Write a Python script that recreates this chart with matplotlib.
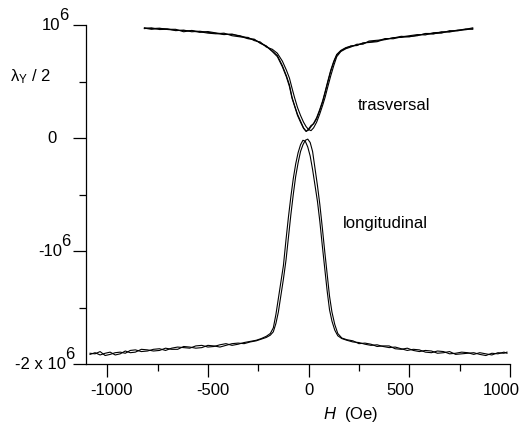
import matplotlib
matplotlib.use("Agg")
import matplotlib.pyplot as plt
from matplotlib.ticker import FixedLocator, NullFormatter
from matplotlib.transforms import blended_transform_factory, ScaledTranslation

plt.rcParams['font.family'] = ['Liberation Sans', 'DejaVu Sans']
plt.rcParams['mathtext.fontset'] = 'custom'
plt.rcParams['mathtext.rm'] = 'Liberation Sans'
plt.rcParams['mathtext.it'] = 'Liberation Sans:italic'

# ---------------- data (lambda in units of 10^6) ----------------
T_H = [-815, -780, -740, -700, -660, -620, -580, -540, -500, -460, -420, -380,
       -340, -300, -270, -240, -210, -180, -155, -130, -110, -95, -82, -70,
       -55, -40, -25, -12, 0, 12, 25, 40, 55, 70, 82, 95, 110, 125, 140, 160,
       185, 210, 240, 270, 300, 340, 380, 420, 460, 500, 540, 580, 620, 660,
       700, 740, 780, 815]

T1 = [0.975, 0.968, 0.972, 0.960, 0.955, 0.950, 0.948, 0.935, 0.942, 0.930,
      0.920, 0.915, 0.905, 0.882, 0.870, 0.842, 0.815,
      0.770, 0.730, 0.640, 0.550, 0.470, 0.360, 0.290, 0.210, 0.150, 0.090,
      0.060, 0.070, 0.100, 0.130, 0.180, 0.250, 0.330, 0.410, 0.500, 0.600,
      0.680, 0.740,
      0.775, 0.800, 0.812, 0.822, 0.838, 0.850, 0.858, 0.880, 0.878, 0.895,
      0.905, 0.915, 0.912, 0.932, 0.935, 0.942, 0.955, 0.958, 0.968]

T2 = [0.968, 0.975, 0.960, 0.962, 0.962, 0.940, 0.952, 0.940, 0.928, 0.922,
      0.928, 0.905, 0.895, 0.890, 0.862, 0.850, 0.805,
      0.785, 0.750, 0.680, 0.600, 0.530, 0.440, 0.360, 0.270, 0.200, 0.140,
      0.100, 0.075, 0.065, 0.090, 0.140, 0.210, 0.290, 0.360, 0.450, 0.550,
      0.640, 0.720,
      0.765, 0.790, 0.805, 0.830, 0.830, 0.858, 0.865, 0.870, 0.888, 0.890,
      0.898, 0.905, 0.925, 0.925, 0.928, 0.950, 0.948, 0.962, 0.975]

T3 = [0.972, 0.962, 0.968, 0.966, 0.950, 0.955, 0.940, 0.945, 0.935, 0.926,
      0.915, 0.920, 0.900, 0.878, 0.875, 0.838, 0.812,
      0.765, 0.720, 0.630, 0.540, 0.455, 0.350, 0.285, 0.200, 0.140, 0.085,
      0.058, 0.080, 0.110, 0.125, 0.170, 0.240, 0.320, 0.400, 0.490, 0.590,
      0.670, 0.735,
      0.770, 0.795, 0.815, 0.818, 0.842, 0.845, 0.852, 0.875, 0.885, 0.900,
      0.895, 0.910, 0.920, 0.920, 0.940, 0.938, 0.952, 0.965, 0.962]

L_H = [-1085, -1060, -1035, -1010, -985, -960, -935, -910, -885, -860, -830,
       -800, -770, -740, -710, -680, -650, -620, -590, -560, -530, -500, -470,
       -440, -410, -380, -350, -320, -290, -260, -235, -210, -190, -175, -162,
       -150, -138, -125, -112, -100, -88, -76, -64, -52, -40, -28, -16, -4, 8,
       20, 32, 44, 56, 68, 80, 92, 104, 116, 130, 145, 165, 190, 220, 250, 280,
       310, 340, 370, 400, 430, 460, 490, 520, 550, 580, 610, 640, 670, 700,
       730, 760, 790, 820, 850, 880, 910, 940, 970, 985]

L1 = [-1.905, -1.910, -1.890, -1.925, -1.915, -1.900, -1.895, -1.905, -1.880,
      -1.875, -1.890, -1.885, -1.870, -1.865, -1.880, -1.860, -1.850, -1.855,
      -1.860, -1.840, -1.835, -1.850, -1.845, -1.830, -1.820, -1.835, -1.825,
      -1.810, -1.800, -1.790,
      -1.775, -1.755, -1.730, -1.680, -1.560, -1.420, -1.280, -1.130, -0.900,
      -0.700, -0.520, -0.360, -0.230, -0.130, -0.060, -0.020, -0.030, -0.080,
      -0.160, -0.280, -0.420, -0.560, -0.740, -0.950, -1.150, -1.350, -1.520,
      -1.620, -1.700, -1.750,
      -1.775, -1.790, -1.805, -1.810, -1.825, -1.835, -1.830, -1.845, -1.855,
      -1.850, -1.865, -1.880, -1.870, -1.875, -1.895, -1.900, -1.885, -1.890,
      -1.910, -1.905, -1.895, -1.900, -1.915, -1.900, -1.910, -1.920, -1.900,
      -1.905, -1.895]

L2 = [-1.915, -1.900, -1.920, -1.905, -1.895, -1.920, -1.910, -1.885, -1.900,
      -1.895, -1.870, -1.875, -1.885, -1.880, -1.860, -1.870, -1.870, -1.845,
      -1.850, -1.860, -1.855, -1.835, -1.840, -1.850, -1.835, -1.820, -1.815,
      -1.820, -1.805, -1.795,
      -1.780, -1.765, -1.745, -1.715, -1.640, -1.540, -1.400, -1.250, -1.080,
      -0.880, -0.680, -0.500, -0.340, -0.220, -0.120, -0.060, -0.020, -0.010,
      -0.040, -0.120, -0.270, -0.420, -0.590, -0.790, -1.000, -1.200, -1.400,
      -1.540, -1.650, -1.730,
      -1.770, -1.785, -1.795, -1.820, -1.815, -1.825, -1.845, -1.840, -1.840,
      -1.865, -1.870, -1.860, -1.880, -1.890, -1.880, -1.885, -1.905, -1.900,
      -1.890, -1.915, -1.910, -1.905, -1.900, -1.915, -1.925, -1.905, -1.910,
      -1.895, -1.905]

x_major = [-1000, -500, 0, 500, 1000]
x_minor = [-750, -250, 250, 750]
x_labels = ["-1000", "-500", "0", "500", "1000"]
y_major = [-2, -1, 0, 1]
y_minor = [-1.5, -0.5, 0.5]
y_label_base = ["-2 x 10", "-10", "0", "10"]
y_label_sup = ["6", "6", "", "6"]

# ---------------- figure ----------------
W, Hpx = 526, 423
fig = plt.figure(figsize=(W/100, Hpx/100), dpi=100)
ax = fig.add_axes([86/W, 1-364/Hpx, (510-86)/W, (364-25)/Hpx])

for ys in (T1, T2, T3):
    ax.plot(T_H, ys, color='black', lw=0.8)
for ys in (L1, L2):
    ax.plot(L_H, ys, color='black', lw=0.8)

ax.set_xlim(-1105, 1000)
ax.set_ylim(-2, 1)
for s in ('top', 'right'):
    ax.spines[s].set_visible(False)
for s in ('left', 'bottom'):
    ax.spines[s].set_linewidth(0.9)

ax.xaxis.set_major_locator(FixedLocator(x_major))
ax.xaxis.set_minor_locator(FixedLocator(x_minor))
ax.yaxis.set_major_locator(FixedLocator(y_major))
ax.yaxis.set_minor_locator(FixedLocator(y_minor))
ax.xaxis.set_major_formatter(NullFormatter())
ax.yaxis.set_major_formatter(NullFormatter())
ax.tick_params(which='major', direction='out', length=9.5, width=0.9)
ax.tick_params(which='minor', direction='out', length=5, width=0.9)

fs = 12
px = fig.dpi_scale_trans  # inches; 1 px = 0.01 in

# x tick labels (slightly offset as in the original)
x_off = [4, 5.5, 0.5, -9.5, -8.5]
tx = blended_transform_factory(ax.transData, fig.transFigure)
for v, lab, off in zip(x_major, x_labels, x_off):
    ax.text(v, 1-390/Hpx, lab, transform=tx + ScaledTranslation(off/100, 0, px),
            ha='center', va='center', fontsize=fs)

# y tick labels with full-size superscripts
y_right = [66, 62, 57, 60]
ty = blended_transform_factory(fig.transFigure, ax.transData)
for v, base, sup, r in zip(y_major, y_label_base, y_label_sup, y_right):
    ax.text(r/W, v, base, transform=ty, ha='right', va='center', fontsize=fs)
    if sup:
        ax.text((r-1)/W, v, sup, transform=ty + ScaledTranslation(0, 10/100, px),
                ha='left', va='center', fontsize=fs)

# axis titles
fig.text(10/W, 1-77/Hpx, r"λ$_{\mathregular{Y}}$ / 2", fontsize=fs,
         ha='left', va='center')
fig.text(351/W, 1-414/Hpx, r"$\mathit{H}$  (Oe)", fontsize=fs,
         ha='center', va='center')

# curve labels
fig.text(358/W, 1-106/Hpx, "trasversal", fontsize=fs, ha='left', va='center')
fig.text(343/W, 1-223/Hpx, "longitudinal", fontsize=fs, ha='left', va='center')

fig.savefig("out.png", dpi=100)
